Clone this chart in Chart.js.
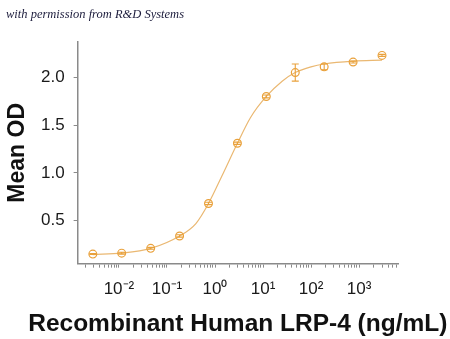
<!DOCTYPE html>
<html>
<head>
<meta charset="utf-8">
<script src="https://cdn.jsdelivr.net/npm/chart.js@4/dist/chart.umd.min.js"></script>
<style>
  html, body { margin: 0; padding: 0; background: #ffffff; }
  #wrap { position: relative; width: 450px; height: 339px; }
</style>
</head>
<body>
<div id="wrap"><canvas id="c" width="450" height="339"></canvas></div>
<script>
// ---- data ----
const concentrations = [0.00286, 0.0114, 0.0458, 0.183, 0.732, 2.93, 11.7, 46.9, 187.5, 750, 3000]; // ng/mL
const meanOD = [0.15, 0.16, 0.21, 0.34, 0.68, 1.31, 1.80, 2.05, 2.11, 2.16, 2.23];
const errOD = [0.005, 0.01, 0.01, 0.012, 0.012, 0.012, 0.015, 0.09, 0.03, 0.01, 0.01];
// fitted curve
const curveX = [0.00286, 0.0114, 0.0458, 0.183, 0.4, 0.732, 1.4, 2.93, 5.5, 11.7, 25, 46.9, 100, 187.5, 750, 3000];
const curveY = [0.145, 0.16, 0.21, 0.34, 0.47, 0.68, 0.97, 1.31, 1.58, 1.80, 1.96, 2.05, 2.11, 2.14, 2.17, 2.18];
const yTickValues = [0.5, 1.0, 1.5, 2.0];
const xDecades = [-2, -1, 0, 1, 2, 3];
const supers = {'-': '\u207B', '0': '\u2070', '1': '\u00B9', '2': '\u00B2', '3': '\u00B3', '4': '\u2074', '5': '\u2075', '6': '\u2076', '7': '\u2077', '8': '\u2078', '9': '\u2079'};
const xTickLabelFor = e => '10' + String(e).split('').map(ch => supers[ch]).join('');

const orange = '#E9A13B';
const lineOrange = '#EAB872';
const axisGray = '#8a8a8a';

const xMin = Math.pow(10, -2.86), xMax = Math.pow(10, 3.81);

const errorBars = {
  id: 'errorBars',
  afterDatasetsDraw(chart) {
    const ctx = chart.ctx;
    const xs = chart.scales.x, ys = chart.scales.y;
    ctx.save();
    ctx.strokeStyle = orange;
    ctx.lineWidth = 1.1;
    concentrations.forEach((c, i) => {
      const px = xs.getPixelForValue(c);
      const top = ys.getPixelForValue(meanOD[i] + errOD[i]);
      const bot = ys.getPixelForValue(meanOD[i] - errOD[i]);
      ctx.beginPath();
      ctx.moveTo(px, top); ctx.lineTo(px, bot);
      ctx.moveTo(px - 3.5, top); ctx.lineTo(px + 3.5, top);
      ctx.moveTo(px - 3.5, bot); ctx.lineTo(px + 3.5, bot);
      ctx.stroke();
    });
    ctx.restore();
  }
};

// let the x-axis title run wider than the plot area (it does in the reference)
const wideXTitle = {
  id: 'wideXTitle',
  beforeDraw(chart) {
    const s = chart.scales.x;
    s.drawTitle = function () {
      const opts = this.options.title;
      if (!opts.display) return;
      const font = Chart.helpers.toFont(opts.font);
      const pad = Chart.helpers.toPadding(opts.padding);
      const ctx = this.ctx;
      ctx.save();
      ctx.font = font.string;
      ctx.fillStyle = opts.color;
      ctx.textAlign = 'center';
      ctx.textBaseline = 'middle';
      ctx.fillText(opts.text, (this.left + this.right) / 2, this.bottom - pad.bottom - font.lineHeight / 2);
      ctx.restore();
    };
  }
};

new Chart(document.getElementById('c'), {
  type: 'scatter',
  data: {
    datasets: [
      {
        label: 'fit',
        data: curveX.map((x, i) => ({x: x, y: curveY[i]})),
        showLine: true,
        borderColor: lineOrange,
        borderWidth: 1.2,
        pointRadius: 0,
        cubicInterpolationMode: 'monotone',
        fill: false,
        order: 2
      },
      {
        label: 'Mean OD',
        data: concentrations.map((x, i) => ({x: x, y: meanOD[i]})),
        showLine: false,
        pointStyle: 'circle',
        pointRadius: 3.9,
        pointBorderWidth: 1.2,
        pointBorderColor: orange,
        pointBackgroundColor: 'rgba(255,255,255,0)',
        order: 1
      }
    ]
  },
  options: {
    responsive: false,
    animation: false,
    devicePixelRatio: 1,
    layout: { padding: { left: 6, right: 52, top: 0, bottom: 0 } },
    plugins: {
      legend: { display: false },
      tooltip: { enabled: false },
      title: {
        display: true,
        text: 'with permission from R&D Systems',
        align: 'start',
        color: '#1c1c3c',
        font: { family: 'Liberation Serif', size: 12.5, style: 'italic', weight: 'normal' },
        padding: { top: 7, bottom: 20 }
      }
    },
    scales: {
      x: {
        type: 'logarithmic',
        min: xMin,
        max: xMax,
        afterBuildTicks(axis) {
          const t = [];
          for (let e = -3; e <= 3; e++) {
            for (let m = 1; m <= 9; m++) {
              const v = m * Math.pow(10, e);
              if (v >= xMin && v <= xMax) t.push({ value: v, major: m === 1 });
            }
          }
          axis.ticks = t;
        },
        ticks: {
          autoSkip: false,
          maxRotation: 0,
          padding: 11,
          color: '#1a1a1a',
          font: { family: 'Liberation Sans', size: 17 },
          callback(v) {
            const e = Math.round(Math.log10(v));
            if (Math.abs(v - Math.pow(10, e)) < 1e-9 * Math.pow(10, e) && xDecades.includes(e)) return xTickLabelFor(e);
            return '';
          }
        },
        grid: {
          display: true,
          drawOnChartArea: false,
          drawTicks: true,
          tickLength: 4,
          tickColor: axisGray,
          tickWidth: 1
        },
        border: { display: true, color: axisGray, width: 1.5 },
        title: {
          display: true,
          text: 'Recombinant Human LRP-4 (ng/mL)',
          color: '#111111',
          font: { family: 'Liberation Sans', size: 24.5, weight: 'bold', lineHeight: 1.1 },
          padding: { top: 1, bottom: 1 }
        }
      },
      y: {
        type: 'linear',
        min: 0.05,
        max: 2.37,
        afterBuildTicks(axis) {
          axis.ticks = yTickValues.map(v => ({ value: v }));
        },
        ticks: {
          padding: 9,
          color: '#1a1a1a',
          font: { family: 'Liberation Sans', size: 17 },
          callback: v => Number(v).toFixed(1)
        },
        grid: {
          display: true,
          drawOnChartArea: false,
          drawTicks: true,
          tickLength: 4,
          tickColor: axisGray,
          tickWidth: 1
        },
        border: { display: true, color: axisGray, width: 1.5 },
        title: {
          display: true,
          text: 'Mean OD',
          color: '#111111',
          font: { family: 'Liberation Sans', size: 23, weight: 'bold', lineHeight: 1 },
          padding: { top: 0, bottom: 3 }
        }
      }
    }
  },
  plugins: [errorBars, wideXTitle]
});
</script>
</body>
</html>
